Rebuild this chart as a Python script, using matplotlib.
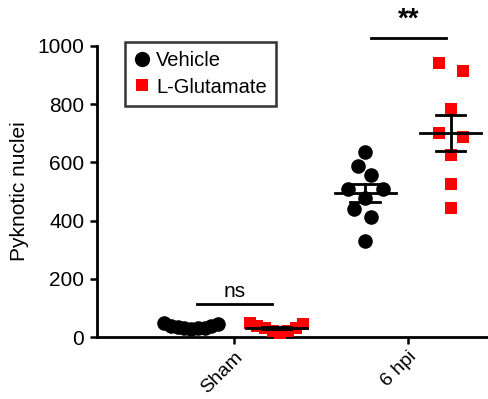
import matplotlib
matplotlib.use("Agg")
import matplotlib.pyplot as plt
import numpy as np

plt.rcParams['font.family'] = ['Liberation Sans', 'DejaVu Sans']

categories = ["Sham", "6 hpi"]
series = ["Vehicle", "L-Glutamate"]

sham_vehicle = [48, 40, 35, 31, 28, 30, 33, 37, 46]
sham_glut = [50, 38, 30, 20, 15, 22, 32, 45]
hpi_vehicle = [636, 588, 557, 509, 509, 478, 440, 412, 330]
hpi_glut = [940, 915, 782, 702, 686, 625, 526, 442]

sham_vehicle_dx = [-0.155, -0.116, -0.078, -0.039, 0.0, 0.039, 0.078, 0.116, 0.155]
sham_glut_dx = [-0.155, -0.111, -0.066, -0.022, 0.022, 0.066, 0.111, 0.155]
hpi_vehicle_dx = [0.0, -0.04, 0.035, -0.1, 0.1, 0.0, -0.065, 0.035, 0.0]
hpi_glut_dx = [-0.065, 0.07, 0.0, -0.065, 0.07, 0.0, 0.0, 0.0]

sig_labels = ["ns", "**"]
sig_heights = [113, 1027]

fig = plt.figure(figsize=(4.89, 3.99), dpi=100)
ax = fig.add_axes([0.198, 0.155, 0.800, 0.730])

group_off = 0.245
groups = [
    (0, -group_off, sham_vehicle, sham_vehicle_dx, 'o', 'black', 10.5),
    (0, group_off, sham_glut, sham_glut_dx, 's', '#ff0000', 8.5),
    (1, -group_off, hpi_vehicle, hpi_vehicle_dx, 'o', 'black', 10.5),
    (1, group_off, hpi_glut, hpi_glut_dx, 's', '#ff0000', 8.5),
]
for ci, off, vals, dx, mk, col, ms in groups:
    c = ci + off
    xs = c + np.array(dx)
    ax.plot(xs, vals, linestyle='none', marker=mk, color=col, markersize=ms,
            markeredgewidth=0, clip_on=False, zorder=3)
    v = np.array(vals, dtype=float)
    m = v.mean()
    sem = v.std(ddof=1) / np.sqrt(len(v))
    ax.plot([c - 0.175, c + 0.175], [m, m], color='black', lw=2, zorder=4, clip_on=False)
    ax.plot([c - 0.085, c + 0.085], [m + sem, m + sem], color='black', lw=2, zorder=4, clip_on=False)
    ax.plot([c - 0.085, c + 0.085], [m - sem, m - sem], color='black', lw=2, zorder=4, clip_on=False)
    ax.plot([c, c], [m - sem, m + sem], color='black', lw=2, zorder=4, clip_on=False)

for ci, (lab, h) in enumerate(zip(sig_labels, sig_heights)):
    ax.plot([ci - 0.21, ci + 0.22], [h, h], color='black', lw=2, clip_on=False)
    if lab == 'ns':
        ax.text(ci + 0.005, h + 10, lab, ha='center', va='bottom', fontsize=15)
    else:
        ax.text(ci + 0.005, h + 18, lab, ha='center', va='bottom', fontsize=20, fontweight='bold')

ax.set_xlim(-0.787, 1.46)
ax.set_ylim(0, 1000)
ax.set_xticks([0, 1])
ax.set_xticklabels(categories, rotation=45, ha='right', rotation_mode='anchor', fontsize=14)
ax.set_yticks([0, 200, 400, 600, 800, 1000])
ax.tick_params(axis='both', direction='out', length=5, width=1.8, labelsize=15, pad=4)
ax.tick_params(axis='x', labelsize=14, pad=3)
ax.set_ylabel("Pyknotic nuclei", fontsize=15, labelpad=6)
for s in ['top', 'right']:
    ax.spines[s].set_visible(False)
for s in ['left', 'bottom']:
    ax.spines[s].set_linewidth(2)

h1, = ax.plot([], [], 'o', color='black', markersize=11, markeredgewidth=0)
h2, = ax.plot([], [], 's', color='#ff0000', markersize=9, markeredgewidth=0)
leg = ax.legend([h1, h2], series, loc='upper left', bbox_to_anchor=(0.072, 1.012),
                fontsize=14.5, frameon=True, fancybox=False, handlelength=0.8,
                handletextpad=0.3, borderpad=0.45, labelspacing=0.35,
                borderaxespad=0.0)
leg.get_frame().set_edgecolor('black')
leg.get_frame().set_linewidth(1.8)

fig.savefig("out.png", dpi=100)
